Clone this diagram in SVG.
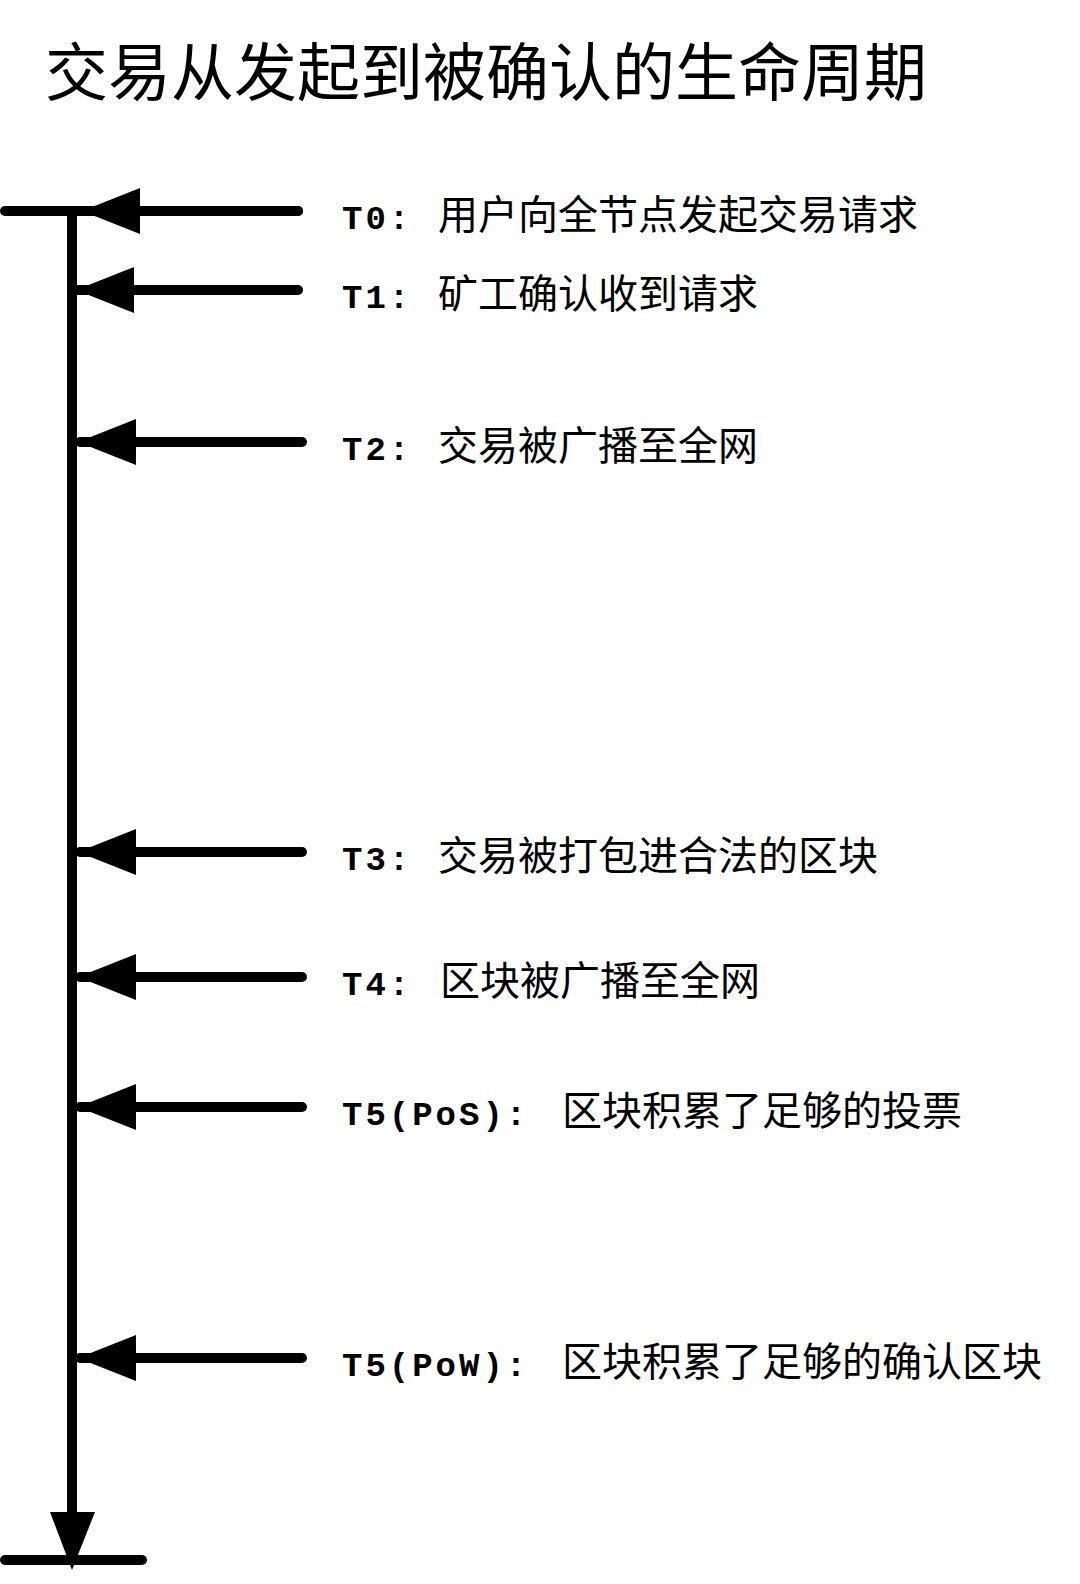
<svg xmlns="http://www.w3.org/2000/svg" width="1080" height="1584" viewBox="0 0 1080 1584">
<style>
.ln{stroke:#000;stroke-width:10;stroke-linecap:round;fill:none}
.lb{font-family:"Liberation Mono",monospace;font-weight:bold;font-size:34px;letter-spacing:3px}
.cn{font-family:"Noto Sans CJK SC",sans-serif;font-size:40px}
</style>
<defs>
<marker id="ah" viewBox="0 0 60 46" refX="56" refY="23" markerWidth="60" markerHeight="46" markerUnits="userSpaceOnUse" orient="auto"><path d="M58,23 L0,0 L0,46 Z"/></marker>
</defs>
<rect width="1080" height="1584" fill="#fff"/>
<text x="45" y="95" font-family="Noto Sans CJK SC,sans-serif" font-size="63">交易从发起到被确认的生命周期</text>
<g id="axis">
<line class="ln" x1="5" y1="211" x2="298" y2="211"/>
<line class="ln" x1="72" y1="211" x2="72" y2="1520" style="stroke-linecap:butt"/>
<path d="M50,1512 L95,1512 L72,1570 Z"/>
<line class="ln" x1="5" y1="1560" x2="142" y2="1560"/>
</g>
<g id="connectors">
<line class="ln" x1="298" y1="211" x2="84" y2="211" marker-end="url(#ah)"/>
<line class="ln" x1="298" y1="290" x2="78" y2="290" marker-end="url(#ah)"/>
<line class="ln" x1="302" y1="442" x2="80" y2="442" marker-end="url(#ah)"/>
<line class="ln" x1="302" y1="852" x2="80" y2="852" marker-end="url(#ah)"/>
<line class="ln" x1="302" y1="977" x2="80" y2="977" marker-end="url(#ah)"/>
<line class="ln" x1="302" y1="1107" x2="80" y2="1107" marker-end="url(#ah)"/>
<line class="ln" x1="302" y1="1358" x2="80" y2="1358" marker-end="url(#ah)"/>
</g>
<g id="t0"><text class="lb" x="342" y="229">T0:</text><text class="cn" x="438" y="229">用户向全节点发起交易请求</text></g>
<g id="t1"><text class="lb" x="342" y="308">T1:</text><text class="cn" x="438" y="308">矿工确认收到请求</text></g>
<g id="t2"><text class="lb" x="342" y="460">T2:</text><text class="cn" x="438" y="460">交易被广播至全网</text></g>
<g id="t3"><text class="lb" x="342" y="870">T3:</text><text class="cn" x="438" y="870">交易被打包进合法的区块</text></g>
<g id="t4"><text class="lb" x="342" y="995">T4:</text><text class="cn" x="440" y="995">区块被广播至全网</text></g>
<g id="t5pos"><text class="lb" x="342" y="1125">T5(PoS):</text><text class="cn" x="562" y="1125">区块积累了足够的投票</text></g>
<g id="t5pow"><text class="lb" x="342" y="1376">T5(PoW):</text><text class="cn" x="562" y="1376">区块积累了足够的确认区块</text></g>
</svg>
